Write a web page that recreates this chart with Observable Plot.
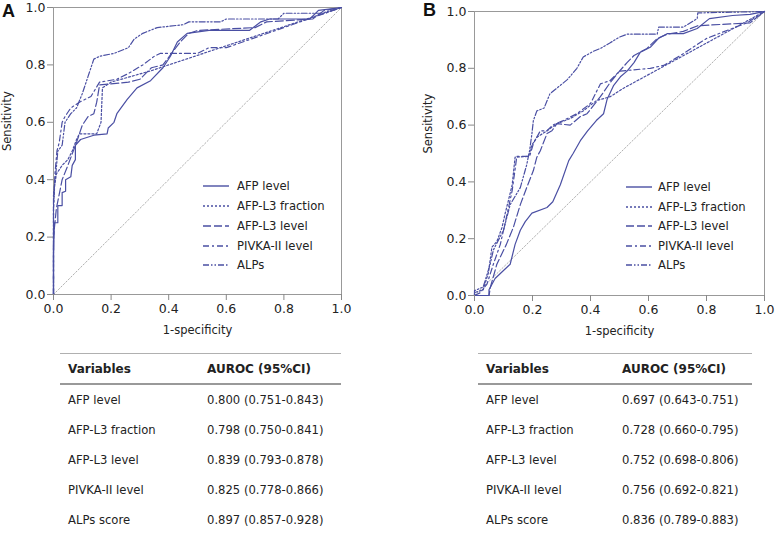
<!DOCTYPE html>
<html>
<head>
<meta charset="utf-8">
<script src="https://cdn.jsdelivr.net/npm/d3@7"></script>
<script src="https://cdn.jsdelivr.net/npm/@observablehq/plot@0.6"></script>
<style>
  html, body { margin: 0; padding: 0; background: #fff; }
  #root { position: relative; width: 776px; height: 535px; font-family: "DejaVu Sans", sans-serif; color: #222; overflow: hidden; }
  .panel { position: absolute; top: 0; }
  .tag { position: absolute; font-family: "Liberation Sans", Arial, sans-serif; font-weight: bold; font-size: 18px; color: #111; }
  .legend { position: absolute; font-size: 11.6px; }
  .legend .row { position: absolute; left: 0; white-space: nowrap; height: 16px; line-height: 16px; }
  .legend svg { position: absolute; left: 0; top: 0; }
  .legend span { position: absolute; top: 0; }
  .tbl { position: absolute; top: 353px; }
  .tbl .hdr { height: 29px; border-top: 1px solid #b0b0b0; border-bottom: 2px solid #999; position: relative; font-weight: bold; font-size: 12px; }
  .tbl .r { height: 30px; position: relative; font-size: 11.6px; }
  .tbl .r:last-child { border-bottom: 2px solid #999; }
  .tbl .c { position: absolute; top: 0; bottom: 0; display: flex; align-items: center; white-space: nowrap; }
</style>
</head>
<body>
<div id="root"></div>
<script>
// ---------------- data ----------------
const seriesNames = ["AFP level", "AFP-L3 fraction", "AFP-L3 level", "PIVKA-II level", "ALPs"];
const tableVariables = ["AFP level", "AFP-L3 fraction", "AFP-L3 level", "PIVKA-II level", "ALPs score"];
const aurocA = ["0.800 (0.751-0.843)", "0.798 (0.750-0.841)", "0.839 (0.793-0.878)", "0.825 (0.778-0.866)", "0.897 (0.857-0.928)"];
const aurocB = ["0.697 (0.643-0.751)", "0.728 (0.660-0.795)", "0.752 (0.698-0.806)", "0.756 (0.692-0.821)", "0.836 (0.789-0.883)"];
const axisTicks = [0, 0.2, 0.4, 0.6, 0.8, 1.0];
const chanceLine = [[0, 0], [1, 1]];

// Panel A: [1-specificity, sensitivity]
const rocA_AFP = [[0,0],[0,0.14],[0.003,0.25],[0.015,0.25],[0.015,0.31],[0.03,0.31],[0.03,0.355],[0.042,0.36],[0.042,0.40],[0.06,0.41],[0.065,0.45],[0.076,0.47],[0.076,0.52],[0.094,0.54],[0.14,0.555],[0.186,0.56],[0.19,0.58],[0.21,0.6],[0.22,0.63],[0.256,0.68],[0.29,0.72],[0.337,0.745],[0.38,0.79],[0.406,0.83],[0.43,0.88],[0.464,0.91],[0.54,0.92],[0.68,0.92],[0.72,0.95],[0.75,0.96],[0.89,0.96],[0.92,0.99],[1,1]];
const rocA_L3frac = [[0,0],[0,0.3],[0.004,0.38],[0.01,0.42],[0.03,0.45],[0.05,0.47],[0.065,0.5],[0.08,0.54],[0.09,0.56],[0.15,0.56],[0.165,0.6],[0.17,0.72],[0.2,0.74],[0.27,0.76],[0.34,0.78],[0.37,0.79],[1,1]];
const rocA_L3level = [[0,0],[0,0.2],[0.01,0.3],[0.02,0.35],[0.03,0.4],[0.05,0.45],[0.065,0.49],[0.08,0.53],[0.1,0.59],[0.12,0.62],[0.14,0.63],[0.15,0.67],[0.16,0.73],[0.26,0.74],[0.3,0.75],[0.34,0.79],[0.38,0.8],[0.41,0.84],[0.44,0.88],[0.47,0.91],[0.5,0.92],[0.7,0.93],[0.74,0.95],[0.9,0.96],[0.94,0.99],[1,1]];
const rocA_PIVKA = [[0,0],[0,0.3],[0.005,0.42],[0.012,0.5],[0.02,0.53],[0.03,0.6],[0.04,0.62],[0.06,0.65],[0.09,0.67],[0.13,0.69],[0.16,0.74],[0.22,0.75],[0.26,0.77],[0.31,0.8],[0.35,0.83],[0.37,0.84],[0.5,0.84],[0.54,0.86],[0.6,0.86],[1,1]];
const rocA_ALPs = [[0,0],[0,0.35],[0.008,0.42],[0.015,0.5],[0.03,0.52],[0.04,0.6],[0.06,0.63],[0.08,0.65],[0.1,0.7],[0.12,0.76],[0.14,0.82],[0.16,0.83],[0.21,0.84],[0.26,0.86],[0.28,0.89],[0.31,0.91],[0.36,0.93],[0.45,0.94],[0.47,0.95],[0.58,0.95],[0.6,0.96],[0.78,0.96],[0.8,0.98],[0.93,0.98],[1,1]];

// Panel B
const rocB_AFP = [[0,0],[0.05,0],[0.05,0.02],[0.071,0.06],[0.1,0.088],[0.123,0.11],[0.14,0.18],[0.158,0.23],[0.175,0.26],[0.198,0.29],[0.25,0.31],[0.27,0.33],[0.296,0.39],[0.325,0.475],[0.34,0.5],[0.365,0.545],[0.39,0.58],[0.42,0.616],[0.445,0.64],[0.457,0.69],[0.48,0.74],[0.503,0.77],[0.526,0.79],[0.55,0.82],[0.572,0.857],[0.606,0.874],[0.634,0.905],[0.664,0.922],[0.72,0.922],[0.768,0.94],[0.81,0.975],[0.89,0.986],[0.95,0.99],[1,1]];
const rocB_L3frac = [[0,0],[0,0.01],[0.03,0.02],[0.048,0.08],[0.06,0.17],[0.077,0.19],[0.095,0.24],[0.106,0.29],[0.117,0.335],[0.13,0.39],[0.14,0.487],[0.186,0.49],[0.198,0.53],[0.215,0.557],[0.25,0.58],[0.284,0.605],[0.33,0.623],[0.375,0.65],[0.42,0.686],[0.468,0.70],[0.514,0.73],[1,1]];
const rocB_L3level = [[0,0],[0.05,0],[0.055,0.03],[0.077,0.11],[0.11,0.18],[0.134,0.24],[0.158,0.32],[0.18,0.38],[0.203,0.44],[0.215,0.487],[0.227,0.51],[0.25,0.57],[0.267,0.58],[0.284,0.605],[0.33,0.60],[0.365,0.63],[0.388,0.64],[0.434,0.70],[0.468,0.75],[0.5,0.79],[0.526,0.82],[0.55,0.845],[0.595,0.87],[0.63,0.905],[0.664,0.92],[0.72,0.93],[0.77,0.95],[0.95,0.96],[1,1]];
const rocB_PIVKA = [[0,0],[0.02,0.01],[0.043,0.04],[0.065,0.11],[0.089,0.18],[0.11,0.275],[0.13,0.37],[0.146,0.49],[0.19,0.49],[0.203,0.535],[0.227,0.58],[0.25,0.58],[0.27,0.60],[0.306,0.616],[0.353,0.64],[0.40,0.676],[0.434,0.745],[0.468,0.757],[0.5,0.79],[0.606,0.80],[0.652,0.81],[0.71,0.845],[0.80,0.905],[0.87,0.933],[0.94,0.96],[1,1]];
const rocB_ALPs = [[0,0],[0,0.017],[0.03,0.03],[0.054,0.11],[0.065,0.16],[0.1,0.23],[0.123,0.32],[0.158,0.38],[0.18,0.46],[0.19,0.51],[0.198,0.57],[0.203,0.616],[0.215,0.65],[0.24,0.66],[0.26,0.71],[0.284,0.73],[0.32,0.76],[0.353,0.80],[0.375,0.84],[0.41,0.86],[0.434,0.87],[0.468,0.89],[0.5,0.91],[0.526,0.92],[0.63,0.92],[0.635,0.945],[0.72,0.945],[0.768,0.975],[0.77,0.995],[1,1]];

// ---------------- styles ----------------
const lineColor = "#4a4fa3";
const dashes = [null, "2,2", "8,3", "6,3,2,3", "6,2,1.5,2,1.5,2"];

const root = document.getElementById("root");

function makePanel(curves, cfg) {
  const marks = [
    Plot.frame({stroke: "#999", strokeWidth: 1}),
    Plot.line(chanceLine, {x: d => d[0], y: d => d[1], stroke: "#999", strokeWidth: 0.8, strokeDasharray: "1.5,2"}),
    ...curves.map((c, i) => Plot.line(c, {x: d => d[0], y: d => d[1], stroke: lineColor, strokeWidth: 1.2, strokeDasharray: dashes[i]})),
    Plot.axisX({ticks: axisTicks, tickFormat: d3.format(".1f"), tickSize: 6, tickPadding: 4, stroke: "#888", fill: "#222", fontSize: 12.5, label: null}),
    Plot.axisY({ticks: axisTicks, tickFormat: d3.format(".1f"), tickSize: 6, tickPadding: 2, stroke: "#888", fill: "#222", fontSize: 12.5, label: null}),
    Plot.text(["Sensitivity"], {frameAnchor: "left", dx: cfg.ylabDx, rotate: -90, fontSize: 11.5, fill: "#222"}),
    Plot.text(["1-specificity"], {frameAnchor: "bottom", dy: 39, fontSize: 11.5, fill: "#222"})
  ];
  const svg = Plot.plot({
    width: cfg.width, height: cfg.height,
    marginLeft: cfg.ml, marginRight: cfg.mr, marginTop: cfg.mt, marginBottom: cfg.mb,
    x: {domain: [0, 1]}, y: {domain: [0, 1]},
    style: {fontFamily: "DejaVu Sans, sans-serif", fontSize: "12.5px", color: "#222", background: "transparent"},
    marks
  });
  const wrap = document.createElement("div");
  wrap.className = "panel";
  wrap.style.left = cfg.left + "px";
  wrap.appendChild(svg);
  root.appendChild(wrap);
}

function makeLegend(left, top, rowYs, lineW, textX) {
  const lg = document.createElement("div");
  lg.className = "legend";
  lg.style.left = left + "px";
  lg.style.top = top + "px";
  seriesNames.forEach((name, i) => {
    const row = document.createElement("div");
    row.className = "row";
    row.style.top = (rowYs[i] - 8) + "px";
    row.innerHTML = `<svg width="${lineW}" height="16"><line x1="0" x2="${lineW}" y1="8" y2="8" stroke="${lineColor}" stroke-width="1.4" ${dashes[i] ? `stroke-dasharray="${dashes[i]}"` : ""}/></svg><span style="left:${textX}px">${name}</span>`;
    lg.appendChild(row);
  });
  root.appendChild(lg);
}

function makeTable(left, width, col2, values) {
  const t = document.createElement("div");
  t.className = "tbl";
  t.style.left = left + "px";
  t.style.width = width + "px";
  let html = `<div class="hdr"><div class="c" style="left:8px">Variables</div><div class="c" style="left:${col2}px">AUROC (95%CI)</div></div>`;
  tableVariables.forEach((v, i) => {
    html += `<div class="r"><div class="c" style="left:8px">${v}</div><div class="c" style="left:${col2}px">${values[i]}</div></div>`;
  });
  t.innerHTML = html;
  root.appendChild(t);
}

function tag(text, x, y) {
  const d = document.createElement("div");
  d.className = "tag";
  d.textContent = text;
  d.style.left = x + "px";
  d.style.top = y + "px";
  root.appendChild(d);
}

makePanel([rocA_AFP, rocA_L3frac, rocA_L3level, rocA_PIVKA, rocA_ALPs],
  {left: 0, width: 385, height: 345, ml: 53, mr: 44, mt: 7, mb: 51, ylabDx: -46});
makePanel([rocB_AFP, rocB_L3frac, rocB_L3level, rocB_PIVKA, rocB_ALPs],
  {left: 390, width: 386, height: 345, ml: 84, mr: 12, mt: 11, mb: 50, ylabDx: -46});

makeLegend(203, 0, [186, 206, 226, 246, 265], 26, 34);
makeLegend(626, 0, [187, 207, 226, 246, 265], 26, 32);

makeTable(60, 281, 147, aurocA);
makeTable(478, 274, 144, aurocB);

tag("A", 2, 1);
tag("B", 423, 0);
</script>
</body>
</html>
